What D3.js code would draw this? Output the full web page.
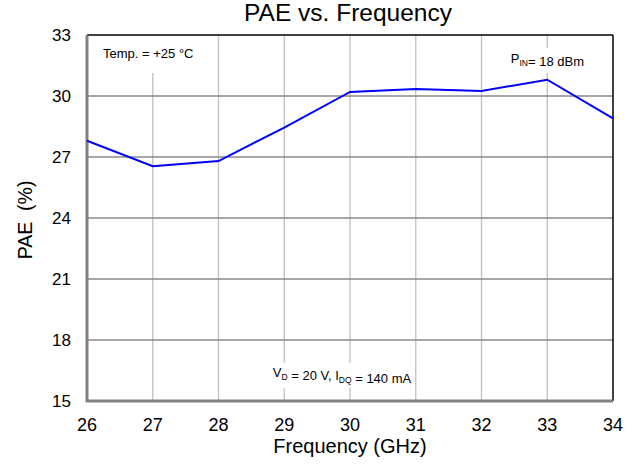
<!DOCTYPE html>
<html>
<head>
<meta charset="utf-8">
<script src="https://cdn.jsdelivr.net/npm/d3@7"></script>
<style>
  body { margin: 0; background: #fff; }
  text { font-family: "Liberation Sans", Arial, sans-serif; fill: #000; }
</style>
</head>
<body>
<div id="chart"></div>
<script>
// chart data
var freqs = [26, 27, 28, 29, 30, 31, 32, 33, 34];
var pae = [27.8, 26.55, 26.8, 28.45, 30.2, 30.35, 30.25, 30.8, 28.9];
var xTicks = [26, 27, 28, 29, 30, 31, 32, 33, 34];
var yTicks = [15, 18, 21, 24, 27, 30, 33];

var width = 634, height = 467;
var margin = {top: 35, right: 21, bottom: 66, left: 87};

var svg = d3.select("#chart").append("svg")
  .attr("width", width)
  .attr("height", height);

var x = d3.scaleLinear()
  .domain([26, 34])
  .range([margin.left, width - margin.right]);
var y = d3.scaleLinear()
  .domain([15, 33])
  .range([height - margin.bottom, margin.top]);

// vertical grid lines
svg.append("g")
  .selectAll("line")
  .data(xTicks.slice(1, -1))
  .enter()
  .append("line")
  .attr("x1", function(d) { return x(d); })
  .attr("x2", function(d) { return x(d); })
  .attr("y1", y(15))
  .attr("y2", y(33))
  .style("stroke", "#c0c0c0")
  .style("stroke-width", 1.3);

// horizontal grid lines
svg.append("g")
  .selectAll("line")
  .data(yTicks.slice(1, -1))
  .enter()
  .append("line")
  .attr("x1", x(26))
  .attr("x2", x(34))
  .attr("y1", function(d) { return y(d); })
  .attr("y2", function(d) { return y(d); })
  .style("stroke", "#8a8a8a")
  .style("stroke-width", 1.3);

// annotations with white boxes that break the grid
function note(cx, cy, parts, anchor, padTop, padBot) {
  var g = svg.append("g");
  var t = g.append("text")
    .attr("x", cx)
    .attr("y", cy)
    .attr("text-anchor", anchor)
    .style("font-size", "13px");
  parts.forEach(function(p) {
    if (p.sub) {
      t.append("tspan").attr("dy", 3).style("font-size", "8.5px").text(p.s);
      t.append("tspan").attr("dy", -3).text("");
    } else {
      t.append("tspan").text(p.s);
    }
  });
  var bb = t.node().getBBox();
  g.insert("rect", "text")
    .attr("x", bb.x - 3)
    .attr("y", bb.y - padTop)
    .attr("width", bb.width + 6)
    .attr("height", bb.height + padTop + padBot)
    .style("fill", "#fff");
}

note(103, 58, [{s: "Temp. = +25 °C"}], "start", 20, 12);
note(584, 63, [{s: "P"}, {s: "IN", sub: true}, {s: "= 18 dBm"}], "end", 3, 4);
note(342, 377, [{s: "V"}, {s: "D", sub: true}, {s: " = 20 V, I"}, {s: "DQ", sub: true}, {s: " = 140 mA"}], "middle", 2, 2);

// top and right borders
svg.append("line")
  .attr("x1", x(26)).attr("x2", x(34))
  .attr("y1", y(33)).attr("y2", y(33))
  .style("stroke", "#000").style("stroke-width", 1.5);
svg.append("line")
  .attr("x1", x(34)).attr("x2", x(34))
  .attr("y1", y(33)).attr("y2", y(15))
  .style("stroke", "#000").style("stroke-width", 1.5);

// bottom and left axes (thick grey)
svg.append("line")
  .attr("x1", x(26) - 1).attr("x2", x(34))
  .attr("y1", y(15)).attr("y2", y(15))
  .style("stroke", "#808080").style("stroke-width", 3);
svg.append("line")
  .attr("x1", x(26)).attr("x2", x(26))
  .attr("y1", y(33)).attr("y2", y(15) + 1)
  .style("stroke", "#808080").style("stroke-width", 3);

// data line
var line = d3.line()
  .x(function(d, i) { return x(freqs[i]); })
  .y(function(d) { return y(d); });

svg.append("path")
  .datum(pae)
  .attr("d", line)
  .style("fill", "none")
  .style("stroke", "#0000ff")
  .style("stroke-width", 2);

// tick labels
svg.append("g")
  .selectAll("text")
  .data(xTicks)
  .enter()
  .append("text")
  .attr("x", function(d) { return x(d); })
  .attr("y", y(15) + 30)
  .attr("text-anchor", "middle")
  .style("font-size", "18px")
  .text(function(d) { return d; });

svg.append("g")
  .selectAll("text")
  .data(yTicks)
  .enter()
  .append("text")
  .attr("x", x(26) - 16)
  .attr("y", function(d) { return y(d) + 6; })
  .attr("text-anchor", "end")
  .style("font-size", "17px")
  .text(function(d) { return d; });

// titles
svg.append("text")
  .attr("x", 348)
  .attr("y", 21)
  .attr("text-anchor", "middle")
  .style("font-size", "24.5px")
  .text("PAE vs. Frequency");

svg.append("text")
  .attr("x", 350)
  .attr("y", 453)
  .attr("text-anchor", "middle")
  .style("font-size", "20px")
  .text("Frequency (GHz)");

svg.append("text")
  .attr("transform", "translate(32,220) rotate(-90)")
  .attr("text-anchor", "middle")
  .style("font-size", "19.5px")
  .style("white-space", "pre")
  .text("PAE  (%)");
</script>
</body>
</html>
